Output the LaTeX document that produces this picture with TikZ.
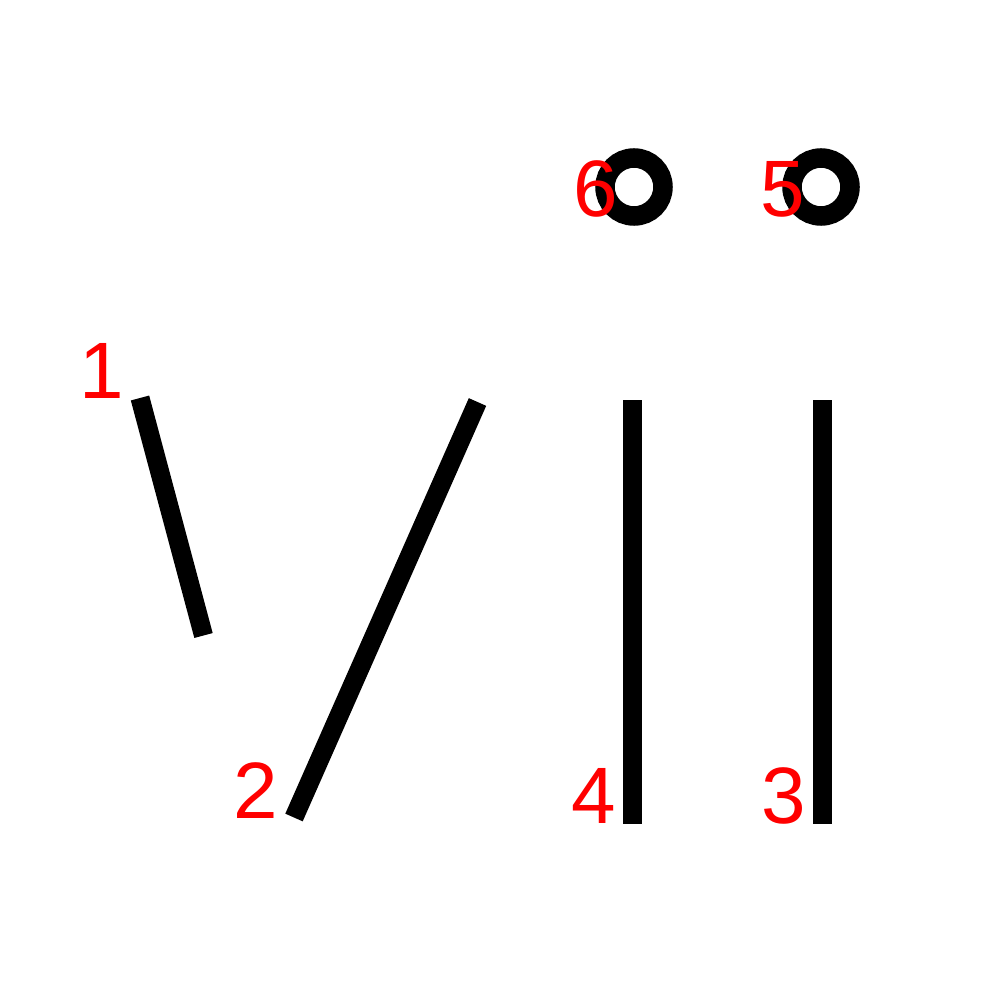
\documentclass[tikz,border=0pt]{standalone}
\usepackage{fontspec}
\setmainfont{Liberation Sans}
\begin{document}
\begin{tikzpicture}[x=1pt,y=-1pt,
  stroke/.style={line width=19pt,draw=black,line cap=butt},
  ring/.style={line width=19.5pt,draw=black},
  lbl/.style={text=red,inner sep=0pt,anchor=base,font=\fontsize{80}{96}\selectfont}]
\useasboundingbox[fill=white] (0,0) rectangle (1000,1000);
% strokes
\coordinate (s1a) at (140,398); \coordinate (s1b) at (203.5,635.5);
\coordinate (s2a) at (477.5,402); \coordinate (s2b) at (294,817.5);
\coordinate (s3a) at (822,400); \coordinate (s3b) at (822,823.5);
\coordinate (s4a) at (632,400); \coordinate (s4b) at (632,823.5);
\draw[stroke] (s1a) -- (s1b);
\draw[stroke] (s2a) -- (s2b);
\draw[stroke] (s3a) -- (s3b);
\draw[stroke] (s4a) -- (s4b);
% rings
\coordinate (c6) at (634,187);
\coordinate (c5) at (821,187);
\draw[ring] (c6) circle[radius=29];
\draw[ring] (c5) circle[radius=29];
% labels
\node[lbl] (l1) at (101.5,398) {1};
\node[lbl] (l2) at (256,818) {2};
\node[lbl] (l3) at (783.5,823) {3};
\node[lbl] (l4) at (593.5,823) {4};
\node[lbl] (l5) at (782.5,217) {5};
\node[lbl] (l6) at (595.5,217) {6};
\end{tikzpicture}
\end{document}
